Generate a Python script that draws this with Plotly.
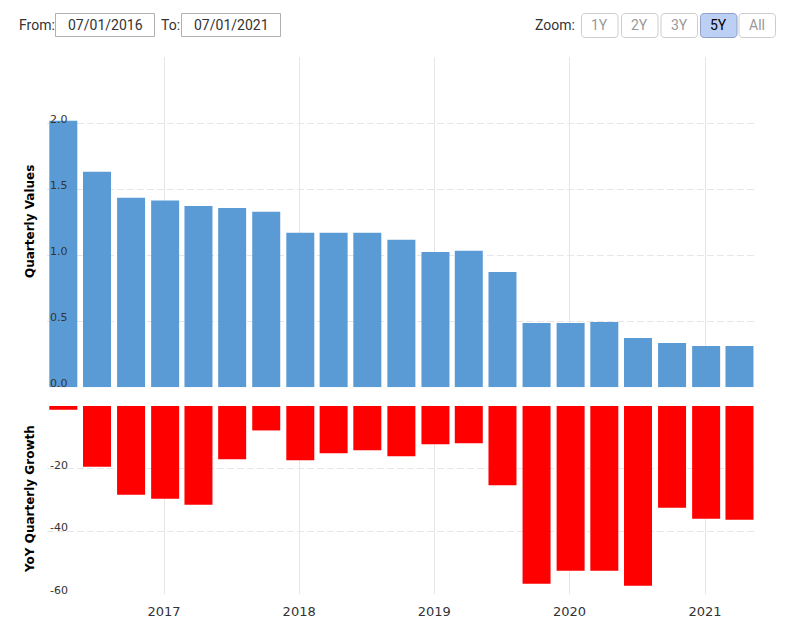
import plotly.graph_objects as go
from plotly.subplots import make_subplots

quarters = ["2016-03-31", "2016-06-30", "2016-09-30", "2016-12-31",
            "2017-03-31", "2017-06-30", "2017-09-30", "2017-12-31",
            "2018-03-31", "2018-06-30", "2018-09-30", "2018-12-31",
            "2019-03-31", "2019-06-30", "2019-09-30", "2019-12-31",
            "2020-03-31", "2020-06-30", "2020-09-30", "2020-12-31",
            "2021-03-31"]
quarterly_values = [2.017, 1.631, 1.434, 1.414, 1.373, 1.358, 1.328, 1.169,
                    1.169, 1.169, 1.116, 1.025, 1.033, 0.873, 0.487, 0.487,
                    0.495, 0.373, 0.335, 0.312, 0.312]
yoy_growth = [-1.2, -19.4, -28.3, -29.6, -31.5, -17.0, -7.8, -17.3, -15.1,
              -14.1, -16.0, -12.2, -11.9, -25.3, -56.7, -52.6, -52.6, -57.4,
              -32.5, -36.0, -36.3]

top_tickvals = [0, 0.5, 1.0, 1.5, 2.0, 2.5]
top_ticktext = ["0.0", "0.5", "1.0", "1.5", "2.0", ""]
bot_tickvals = [-60, -40, -20, 0]
bot_ticktext = ["-60", "-40", "-20", ""]
from_date = "07/01/2016"
to_date = "07/01/2021"
zoom_buttons = ["1Y", "2Y", "3Y", "5Y", "All"]
active_zoom = "5Y"

W, H = 793, 623
ML, MR, MT, MB = 47, 38, 57, 29
PW, PH = W - ML - MR, H - MT - MB

DAY_MS = 86400000
PX_PER_DAY = 0.3703
BAR_W = 28 / PX_PER_DAY * DAY_MS
BAR_OFF = -12.5 / PX_PER_DAY * DAY_MS


def px(x):
    return (x - ML) / PW


def py(y):
    return (H - MB - y) / PH


def rrect(x0, y0, x1, y1, r):
    pts = [("M", x0 + r, y0), ("L", x1 - r, y0), ("Q", x1, y0, x1, y0 + r),
           ("L", x1, y1 - r), ("Q", x1, y1, x1 - r, y1), ("L", x0 + r, y1),
           ("Q", x0, y1, x0, y1 - r), ("L", x0, y0 + r), ("Q", x0, y0, x0 + r, y0)]
    s = ""
    for p in pts:
        cmd = p[0]
        coords = p[1:]
        parts = []
        for i in range(0, len(coords), 2):
            parts.append(f"{px(coords[i]):.5f},{py(coords[i+1]):.5f}")
        s += cmd + " " + " ".join(parts) + " "
    return s + "Z"


fig = make_subplots(rows=2, cols=1, shared_xaxes=True)
fig.add_trace(go.Bar(x=quarters, y=quarterly_values, marker_color="#5b9bd5",
                     marker_line_width=0, width=BAR_W, offset=BAR_OFF,
                     name="Quarterly Values"), row=1, col=1)
fig.add_trace(go.Bar(x=quarters, y=yoy_growth, marker_color="#ff0000",
                     marker_line_width=0, width=BAR_W, offset=BAR_OFF,
                     name="YoY Quarterly Growth"), row=2, col=1)

grid = "#e6e6e6"
tickfont = dict(family="DejaVu Sans", size=11, color="#333333")
xrange = ["2016-02-20", "2021-05-16"]

fig.update_layout(
    width=W, height=H,
    margin=dict(l=ML, r=MR, t=MT, b=MB, autoexpand=False),
    paper_bgcolor="white", plot_bgcolor="white",
    showlegend=False,
    xaxis=dict(domain=[0, 1], range=xrange, type="date", showgrid=True,
               gridcolor=grid, gridwidth=1, showticklabels=False,
               tick0="2017-01-01", dtick="M12", zeroline=False,
               showline=False, ticks="", automargin=False),
    xaxis2=dict(domain=[0, 1], range=xrange, type="date", showgrid=True,
                gridcolor=grid, gridwidth=1, tick0="2017-01-01", dtick="M12",
                tickformat="%Y", ticks="", ticklabelstandoff=8,
                tickfont=dict(family="DejaVu Sans", size=13, color="#333333"),
                showline=False, zeroline=False, automargin=False),
    yaxis=dict(domain=[py(387.3), 1], range=[0, 2.5], tickvals=top_tickvals,
               ticktext=top_ticktext, showgrid=True, gridcolor=grid,
               griddash="7px,3px", zeroline=False, ticks="",
               ticklabelposition="inside", ticklabelshift=-4,
               ticklabeloverflow="allow", tickfont=tickfont, showline=False,
               automargin=False),
    yaxis2=dict(domain=[0, py(406)], range=[-60, 0], tickvals=bot_tickvals,
                ticktext=bot_ticktext, showgrid=True, gridcolor=grid,
                griddash="7px,3px", zeroline=False, ticks="",
                ticklabelposition="inside", ticklabelshift=-4,
                ticklabeloverflow="allow", tickfont=tickfont, showline=False,
                automargin=False),
)

annotations = []
shapes = []
title_font = dict(family="DejaVu Sans", size=12, color="#000000")
annotations.append(dict(text="<b>Quarterly Values</b>", xref="paper", yref="paper",
                        x=px(30), y=py(222), textangle=-90, showarrow=False,
                        xanchor="center", yanchor="middle", font=title_font))
annotations.append(dict(text="<b>YoY Quarterly Growth</b>", xref="paper", yref="paper",
                        x=px(30), y=py(499), textangle=-90, showarrow=False,
                        xanchor="center", yanchor="middle", font=title_font))

hfont = dict(family="Roboto", size=14, color="#333333")
annotations.append(dict(text="From:", xref="paper", yref="paper", x=px(17), y=py(25),
                        xanchor="left", yanchor="middle", showarrow=False, font=hfont))
annotations.append(dict(text="To:", xref="paper", yref="paper", x=px(159), y=py(25),
                        xanchor="left", yanchor="middle", showarrow=False, font=hfont))
for (x0, x1, label) in [(55.5, 154.5, from_date), (181.5, 280.5, to_date)]:
    shapes.append(dict(type="rect", xref="paper", yref="paper",
                       x0=px(x0), x1=px(x1), y0=py(13.5), y1=py(36.5),
                       line=dict(color="#b0b0b0", width=1), fillcolor="white"))
    annotations.append(dict(text=label, xref="paper", yref="paper",
                            x=px((x0 + x1) / 2), y=py(25), xanchor="center",
                            yanchor="middle", showarrow=False, font=hfont))

annotations.append(dict(text="Zoom:", xref="paper", yref="paper", x=px(577), y=py(25),
                        xanchor="right", yanchor="middle", showarrow=False, font=hfont))
bx = [581.5, 621.5, 661, 700.5, 739]
for b, x0 in zip(zoom_buttons, bx):
    x1 = x0 + 36.5
    active = b == active_zoom
    shapes.append(dict(type="path", xref="paper", yref="paper",
                       path=rrect(x0, 13.5, x1, 37.5, 4),
                       line=dict(color="#8e9ec6" if active else "#cccccc", width=1),
                       fillcolor="#bcd0f6" if active else "#ffffff"))
    annotations.append(dict(text=b, xref="paper", yref="paper", x=px((x0 + x1) / 2),
                            y=py(25.5), xanchor="center", yanchor="middle",
                            showarrow=False,
                            font=dict(family="Roboto", size=14,
                                      color="#000000" if active else "#999999")))

fig.update_layout(annotations=annotations, shapes=shapes)
fig.write_html("out.html")
